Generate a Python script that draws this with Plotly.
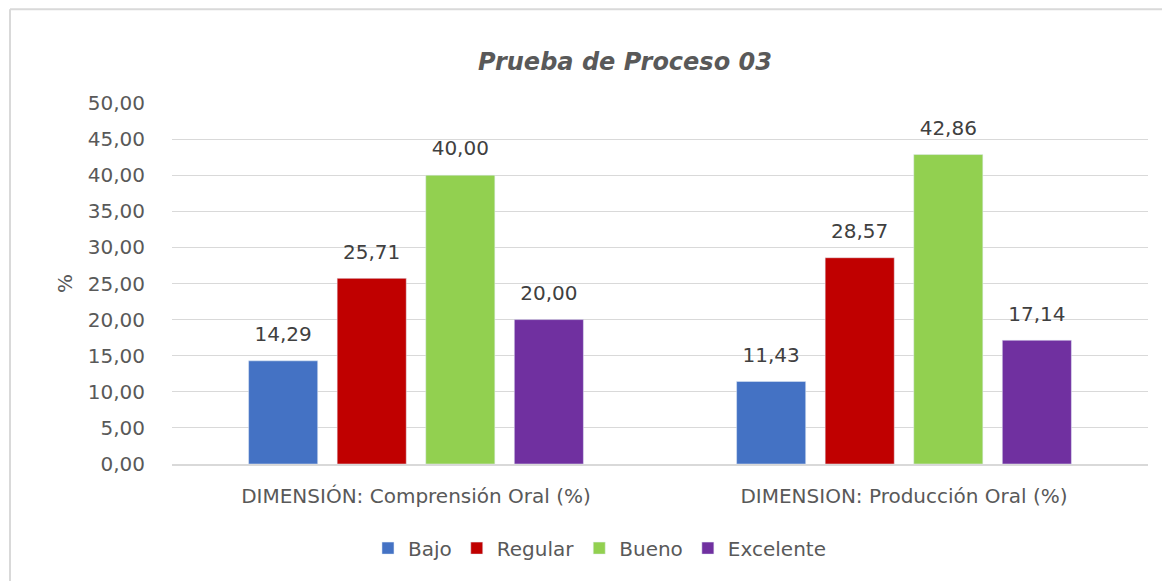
import plotly.graph_objects as go

categories = ["DIMENSIÓN: Comprensión Oral (%)", "DIMENSION: Producción Oral (%)"]
series_names = ["Bajo", "Regular", "Bueno", "Excelente"]
bajo = [14.29, 11.43]
regular = [25.71, 28.57]
bueno = [40.00, 42.86]
excelente = [20.00, 17.14]
colors = ["#4472C4", "#C00000", "#92D050", "#7030A0"]
y_ticks = [0, 5, 10, 15, 20, 25, 30, 35, 40, 45, 50]

FONT = "DejaVu Sans"
FS = 20
BARGAP = 0.274
W, H = 1162, 581

fig = go.Figure()
for i, (name, vals, col) in enumerate(zip(series_names, [bajo, regular, bueno, excelente], colors)):
    fig.add_trace(go.Bar(
        name=name, x=categories, y=vals, marker_color=col,
        offsetgroup=str(i), hoverinfo="y",
    ))
for i, vals in enumerate([bajo, regular, bueno, excelente]):
    fig.add_trace(go.Scatter(
        x=categories, y=vals, mode="text+markers", offsetgroup=str(i),
        marker=dict(size=22, opacity=0), showlegend=False, hoverinfo="skip",
        texttemplate="%{y:.2f}", textposition="top center", cliponaxis=False,
        textfont=dict(family=FONT, size=FS, color="#404040"),
    ))

fig.update_layout(
    width=W, height=H,
    paper_bgcolor="white", plot_bgcolor="white",
    separators=",.",
    barmode="group", bargap=BARGAP, bargroupgap=0.22,
    scattermode="group", scattergap=BARGAP,
    margin=dict(l=172, r=W - 1148, t=103, b=H - 464),
    title=dict(text="<b><i>Prueba de Proceso 03</i></b>", x=625 / W, xanchor="center",
               y=1 - 62 / H, yanchor="middle", xref="container", yref="container",
               font=dict(family=FONT, size=24, color="#595959")),
    font=dict(family=FONT, size=FS, color="#595959"),
    showlegend=True,
    legend=dict(orientation="h", x=0.4385, xanchor="center", y=-0.233, yanchor="middle",
                font=dict(family=FONT, size=FS, color="#595959"), itemwidth=30,
                traceorder="normal"),
    shapes=[
        dict(type="line", xref="paper", yref="paper", x0=-0.166, x1=-0.166, y0=-0.6, y1=1.260,
             line=dict(color="#d9d9d9", width=2), layer="below"),
        dict(type="line", xref="paper", yref="paper", x0=-0.166, x1=1.3, y0=1.260, y1=1.260,
             line=dict(color="#d9d9d9", width=2), layer="below"),
    ],
)
fig.update_yaxes(range=[0, 50], tickvals=y_ticks, tickformat=".2f",
                 gridcolor="#d9d9d9", gridwidth=1, showline=False, zeroline=False,
                 ticks="outside", ticklen=22, tickcolor="rgba(0,0,0,0)",
                 title=dict(text="%", standoff=9, font=dict(family=FONT, size=FS, color="#595959")),
                 tickfont=dict(family=FONT, size=FS, color="#595959"))
fig.update_xaxes(showline=True, linecolor="#d9d9d9", linewidth=1.5, showgrid=False,
                 ticks="outside", ticklen=13, tickcolor="rgba(0,0,0,0)",
                 tickfont=dict(family=FONT, size=FS, color="#595959"))

fig.write_html("out.html", config={"displayModeBar": False},
               post_script="document.body.style.margin='0';document.body.style.overflow='hidden';")
